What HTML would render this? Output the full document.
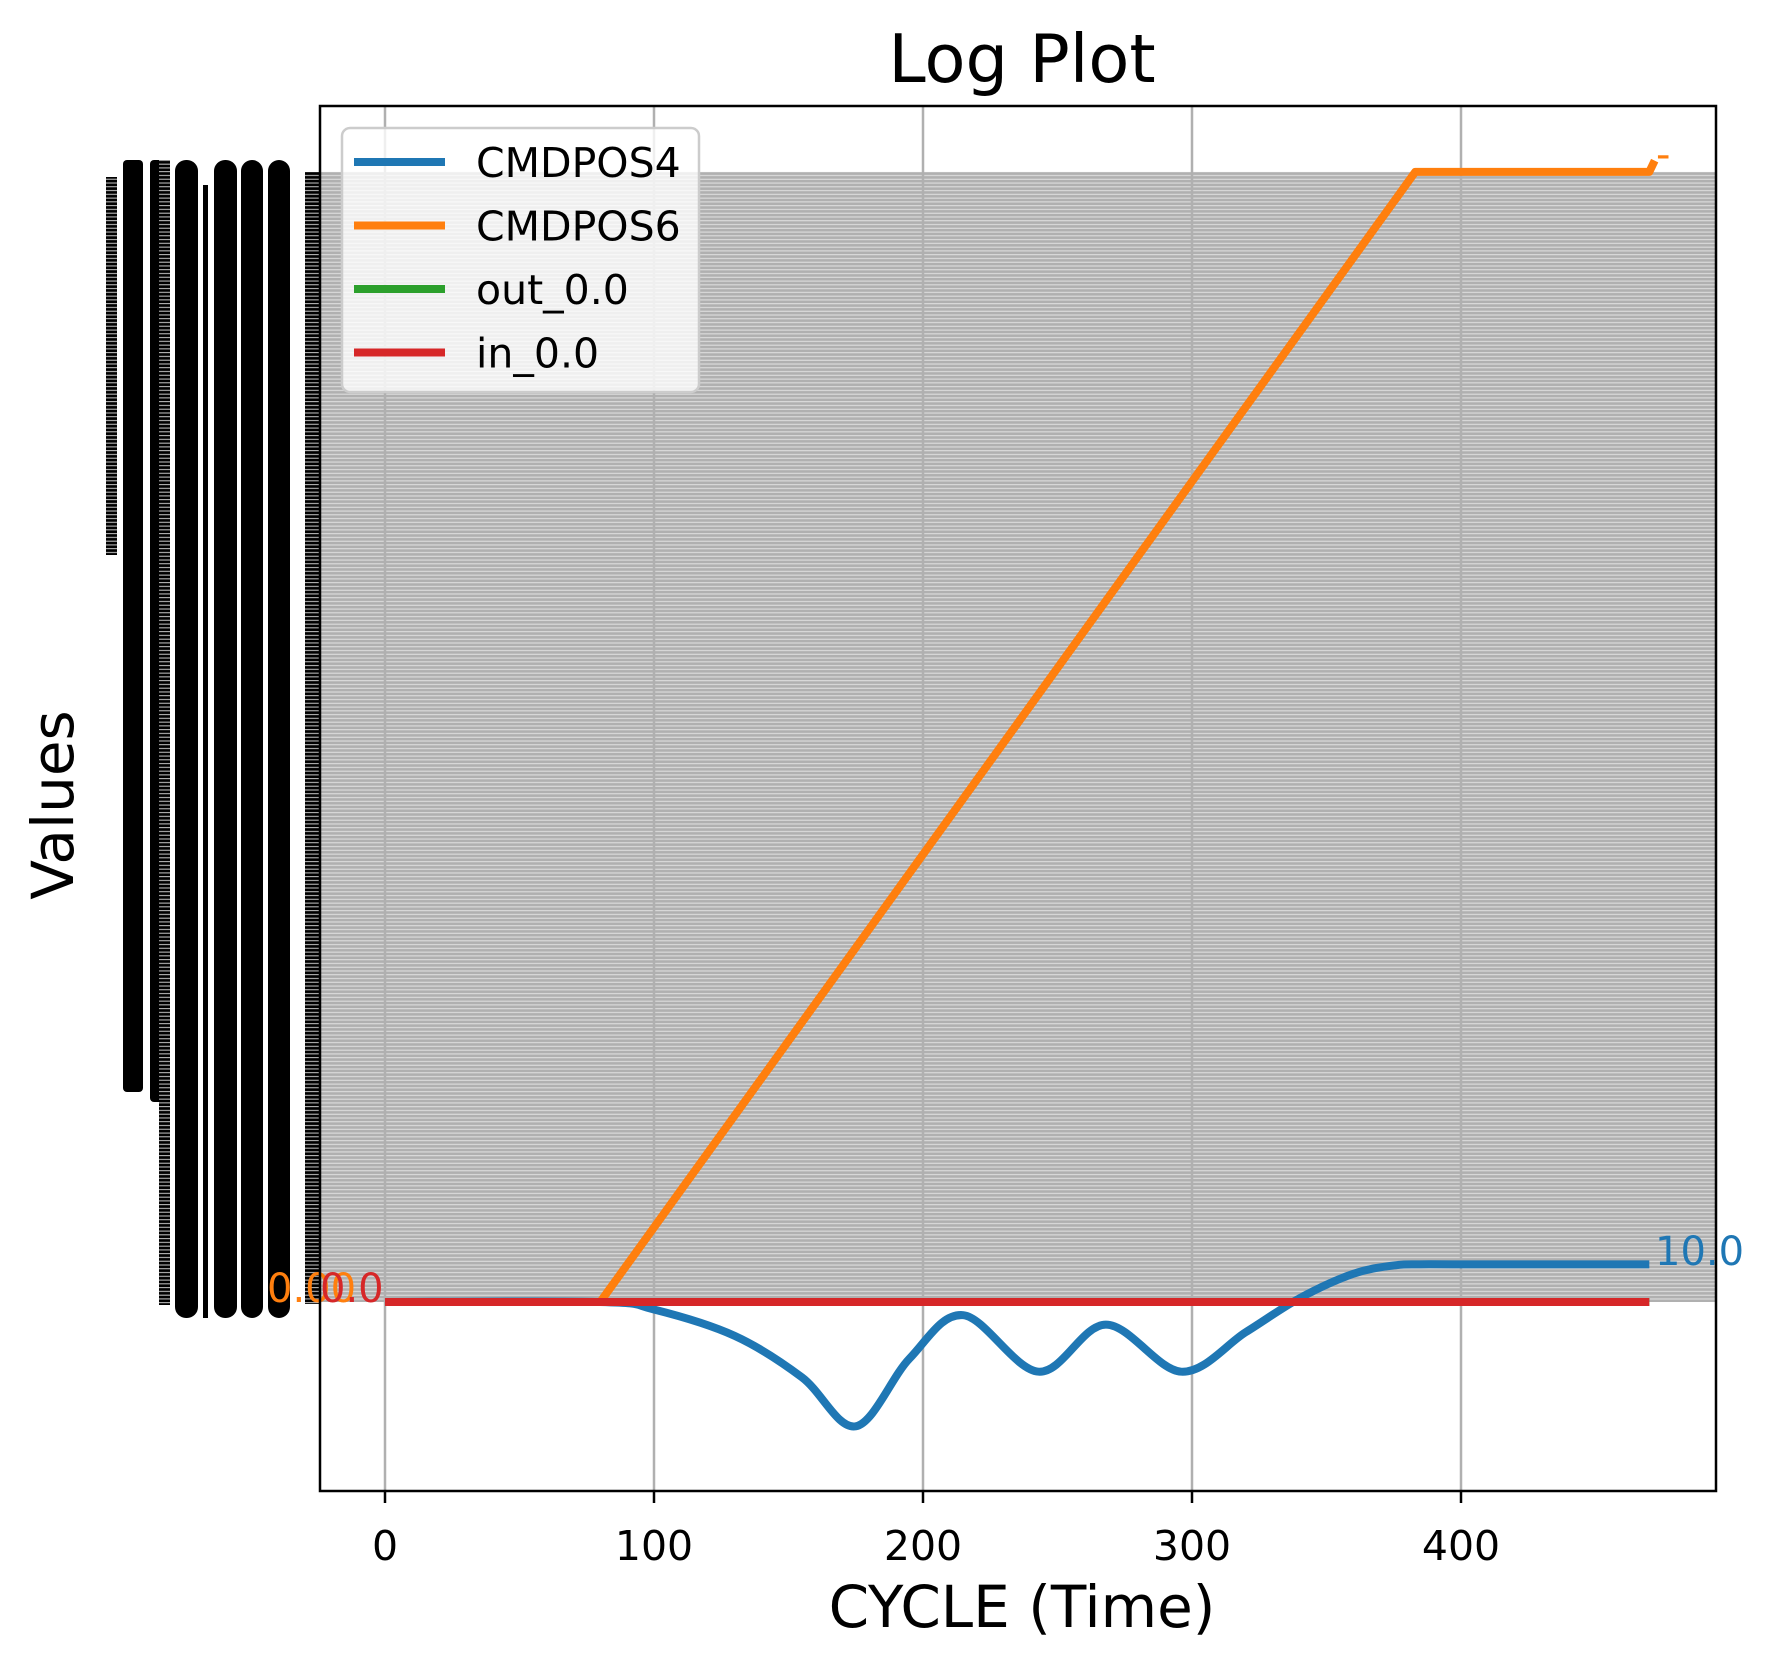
<!DOCTYPE html>
<html><head><meta charset="utf-8"><style>
html,body{margin:0;padding:0;background:#fff;}
svg{display:block;font-family:"DejaVu Sans","Liberation Sans",sans-serif;}
</style></head><body>
<svg id="chart" width="1774" height="1667" viewBox="0 0 1774 1667" xmlns="http://www.w3.org/2000/svg">
<defs>
<pattern id="stripes" width="8" height="3.77" patternUnits="userSpaceOnUse">
<rect width="8" height="3.77" fill="#b0b0b0"/><rect y="1.6" width="8" height="1" fill="#e2e2e2"/>
</pattern>
<pattern id="tickstripes" width="8" height="3.77" patternUnits="userSpaceOnUse">
<rect width="8" height="3.77" fill="#000"/><rect y="1.6" width="8" height="0.9" fill="#ddd"/>
</pattern>
</defs>
<text x="1022" y="82" font-size="67" text-anchor="middle">Log Plot</text>
<g id="ylabels-blob">
<rect x="106" y="177" width="11" height="378" fill="url(#tickstripes)"/>
<rect x="123" y="160" width="20" height="932" rx="4" fill="#000"/>
<rect x="150" y="160" width="20" height="942" rx="4" fill="#000"/>
<rect x="159" y="160" width="11" height="1145" fill="url(#tickstripes)"/>
<rect x="175" y="160" width="23" height="1158" rx="11" fill="#000"/>
<rect x="203" y="185" width="5" height="1133" fill="#000"/>
<rect x="214" y="160" width="23" height="1158" rx="11" fill="#000"/>
<rect x="241" y="160" width="22" height="1158" rx="11" fill="#000"/>
<rect x="268" y="160" width="22" height="1158" rx="11" fill="#000"/>
<rect x="305" y="172" width="16" height="1132" fill="url(#tickstripes)"/>
</g>
<text transform="translate(73,805) rotate(-90)" font-size="58" text-anchor="middle">Values</text>
<text x="1022" y="1627" font-size="58" text-anchor="middle">CYCLE (Time)</text>
<g id="plot"></g>
</svg>
<script>
const xTicks=[0,100,200,300,400];
const orangeX=[0,80,383,470,472];
const orangeY=[0,0,300,300,303];
const blueX=[0,80,100,130,155,175,195,215,243,268,296,320,340,360,375,385,400,470];
const blueY=[0,0,-2,-9,-20,-33,-15,-3.5,-18.5,-6,-18.5,-8,1,7.5,9.7,10,10,10];
const redX=[0,470];
const redY=[0,0];
const greenX=[0,470];
const greenY=[0,0];
const gridTop=300;

const L=320,R=1716,T=106,B=1491;
const sx=v=>385+v*2.69;
const sy=v=>1302-v*3.767;
const NS="http://www.w3.org/2000/svg";
const g=document.getElementById('plot');
function mk(tag,attrs,parent){const e=document.createElementNS(NS,tag);for(const k in attrs)e.setAttribute(k,attrs[k]);(parent||g).appendChild(e);return e;}

const band=mk('rect',{x:L,y:sy(gridTop),width:R-L,height:sy(0)-sy(gridTop),fill:'url(#stripes)'});



xTicks.forEach(t=>{
  const gl=mk('line',{x1:sx(t),x2:sx(t),y1:T,y2:B,stroke:'#b0b0b0','stroke-width':2.5});
  
  
  const tk=mk('line',{x1:sx(t),x2:sx(t),y1:B,y2:B+12,stroke:'#000','stroke-width':2.5});
  
  
  const tl=mk('text',{x:sx(t),y:1560,'font-size':41,'text-anchor':'middle'});
  tl.textContent=t;
  
  
});

function smooth(xs,ys){
  const p=xs.map((x,i)=>[sx(x),sy(ys[i])]);
  let d='M'+p[0][0]+','+p[0][1];
  for(let i=0;i<p.length-1;i++){
    const p0=p[i-1]||p[i],p1=p[i],p2=p[i+1],p3=p[i+2]||p2;
    const c1=[p1[0]+(p2[0]-p0[0])/6,p1[1]+(p2[1]-p0[1])/6];
    const c2=[p2[0]-(p3[0]-p1[0])/6,p2[1]-(p3[1]-p1[1])/6];
    d+=' C'+c1+' '+c2+' '+p2;
  }
  return d;
}
function poly(xs,ys){return 'M'+xs.map((x,i)=>sx(x)+','+sy(ys[i])).join(' L');}

const ob=mk('path',{d:poly(orangeX,orangeY),fill:'none',stroke:'#ff7f0e','stroke-width':8,'stroke-linejoin':'round'});


const bl=mk('path',{d:smooth(blueX,blueY),fill:'none',stroke:'#1f77b4','stroke-width':8,'stroke-linejoin':'round'});


const gr=mk('path',{d:poly(greenX,greenY),fill:'none',stroke:'#2ca02c','stroke-width':8});


const rd=mk('path',{d:poly(redX,redY),fill:'none',stroke:'#d62728','stroke-width':8});



const ann=[[267,1302,'#ff7f0e','0.00','annotation-cmdpos6-start'],[320,1302,'#d62728','0.0','annotation-in-start'],[1655,1265,'#1f77b4','10.0','annotation-cmdpos4-end'],[1656,168,'#ff7f0e','-','annotation-cmdpos6-end']];
ann.forEach(a=>{
  const t=mk('text',{x:a[0],y:a[1],fill:a[2],'font-size':40});
  t.textContent=a[3];
  
  
});

const fr=mk('rect',{x:L,y:T,width:R-L,height:B-T,fill:'none',stroke:'#000','stroke-width':2.5});



const lg=mk('g',{});


mk('rect',{x:342,y:128,width:357,height:264,rx:8,fill:'rgba(255,255,255,0.8)',stroke:'#cccccc','stroke-width':2.5},lg);
const legNames=['CMDPOS4','CMDPOS6','out_0.0','in_0.0'];
const legColors=['#1f77b4','#ff7f0e','#2ca02c','#d62728'];
legNames.forEach((n,i)=>{
  const y=162+i*63.5;
  const ent=mk('g',{},lg);
  
  
  mk('line',{x1:354,x2:445,y1:y,y2:y,stroke:legColors[i],'stroke-width':8},ent);
  const t=mk('text',{x:476,y:y+15,'font-size':41},ent);
  t.textContent=n;
});
</script>
</body></html>
